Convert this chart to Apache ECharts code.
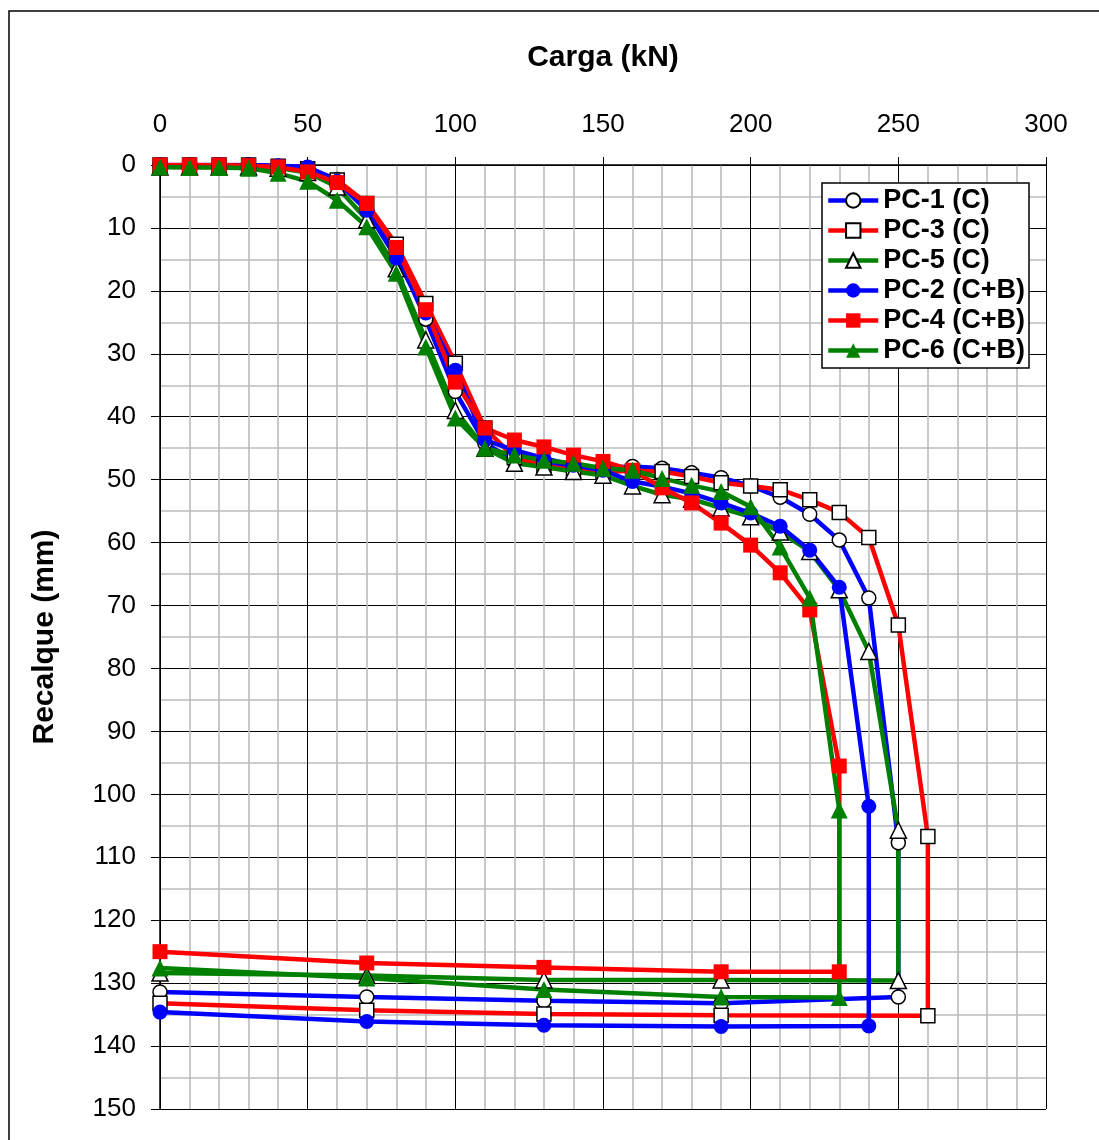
<!DOCTYPE html>
<html>
<head>
<meta charset="utf-8">
<script src="https://cdn.jsdelivr.net/npm/echarts@6/dist/echarts.min.js"></script>
<style>
html,body{margin:0;padding:0;background:#fff;}
#chart{width:1099px;height:1140px;}
</style>
</head>
<body>
<div id="chart"></div>
<script>
// ---- Data (Carga kN vs Recalque mm) ----
var xTicks = [0, 50, 100, 150, 200, 250, 300];
var yTicks = [0, 10, 20, 30, 40, 50, 60, 70, 80, 90, 100, 110, 120, 130, 140, 150];

var pc1Load = [0,10,20,30,40,50,60,70,80,90,100,110,120,130,140,150,160,170,180,190,200,210,220,230,240,250,250,190,130,70,0];
var pc1Set  = [0,0,0,0,0.2,0.4,2.3,7.2,14.0,24.5,36.0,44.2,47.0,47.5,47.9,48.1,47.9,48.2,48.9,49.7,51.0,52.8,55.5,59.6,68.8,107.7,132.2,133.2,132.8,132.2,131.4];

var pc3Load = [0,10,20,30,40,50,60,70,80,90,100,110,120,130,140,150,160,170,180,190,200,210,220,230,240,250,260,260,190,130,70,0];
var pc3Set  = [0,0,0,0,0.2,0.6,2.4,6.1,12.6,22.0,31.5,41.8,46.5,47.8,48.5,48.8,48.6,48.7,49.5,50.5,51.0,51.6,53.2,55.2,59.2,73.1,106.7,135.2,135.1,134.9,134.3,133.2];

var pc5Load = [0,10,20,30,40,50,60,70,80,90,100,110,120,130,140,150,160,170,180,190,200,210,220,230,240,250,250,190,130,70,0];
var pc5Set  = [0.3,0.3,0.3,0.3,0.5,1.2,3.5,8.7,16.5,27.8,39.0,45.0,47.4,48.0,48.7,49.3,51.0,52.4,53.1,54.5,55.9,58.3,61.4,67.5,77.3,105.7,129.6,129.5,129.5,128.8,128.4];

var pc2Load = [0,10,20,30,40,50,60,70,80,90,100,110,120,130,140,150,160,170,180,190,200,210,220,230,240,240,190,130,70,0];
var pc2Set  = [0,0,0,0,0.1,0.3,2.6,7.2,14.8,23.5,32.6,43.7,45.3,46.6,47.7,48.5,50.3,51.1,52.2,53.7,55.3,57.4,61.2,67.1,101.9,136.8,136.9,136.7,136.1,134.6];

var pc4Load = [0,10,20,30,40,50,60,70,80,90,100,110,120,130,140,150,160,170,180,190,200,210,220,230,230,190,130,70,0];
var pc4Set  = [0,0,0,0.1,0.3,1.1,2.8,6.1,13.1,23.0,34.5,41.8,43.7,44.8,46.1,47.1,48.5,51.3,53.7,56.9,60.4,64.8,70.7,95.5,128.2,128.2,127.5,126.8,125.0];

var pc6Load = [0,10,20,30,40,50,60,70,80,90,100,110,120,130,140,150,160,170,180,190,200,210,220,230,230,190,130,70,0];
var pc6Set  = [0.3,0.4,0.4,0.5,1.3,2.6,5.6,9.8,17.2,28.9,40.2,45.0,46.1,46.9,47.4,48.2,48.5,49.8,50.9,51.9,54.3,60.7,68.8,102.5,132.3,132.2,131.0,129.2,127.6];

function pairs(xs, ys){ return xs.map(function(x,i){ return [x, ys[i]]; }); }

var FONT = '"Liberation Sans", Arial, sans-serif';
var BLUE = '#0000FF', RED = '#FF0000', GREEN = '#008000';

function mk(name, xs, ys, color, symbol, size, hollow){
  return {
    name: name,
    type: 'line',
    data: pairs(xs, ys),
    symbol: symbol,
    symbolSize: size,
    showAllSymbol: true,
    lineStyle: { color: color, width: 4.5 },
    itemStyle: hollow ? { color: '#ffffff', borderColor: '#000000', borderWidth: 1.5 }
                      : { color: color, borderWidth: 0 },
    emphasis: { disabled: true },
    z: 3
  };
}

var chart = echarts.init(document.getElementById('chart'), null, {renderer: 'canvas'});
chart.setOption({
  animation: false,
  backgroundColor: '#ffffff',
  textStyle: { fontFamily: FONT },
  grid: { left: 160, right: 53, top: 165, bottom: 31, containLabel: false },
  graphic: [{
    type: 'rect',
    shape: { x: 9, y: 11, width: 1200, height: 1200 },
    style: { fill: 'none', stroke: '#000', lineWidth: 1.5 },
    silent: true, z: -1
  }],
  legend: {
    orient: 'vertical',
    left: 822, top: 183,
    padding: [4, 4, 4, 4],
    itemGap: 3,
    itemWidth: 50,
    itemHeight: 18,
    backgroundColor: '#ffffff',
    borderColor: '#000000',
    borderWidth: 1.5,
    lineStyle: { width: 4.5 },
    textStyle: { fontFamily: FONT, fontSize: 27, fontWeight: 'bold', color: '#000', lineHeight: 26 },
    data: ['PC-1 (C)', 'PC-3 (C)', 'PC-5 (C)', 'PC-2 (C+B)', 'PC-4 (C+B)', 'PC-6 (C+B)']
  },
  xAxis: {
    type: 'value', position: 'top',
    min: xTicks[0], max: xTicks[xTicks.length-1], interval: 50,
    name: 'Carga (kN)', nameLocation: 'middle', nameGap: 92,
    nameTextStyle: { fontFamily: FONT, fontSize: 30, fontWeight: 'bold', color: '#000' },
    axisLine: { show: true, lineStyle: { color: '#000', width: 1.5 } },
    axisTick: { show: true, inside: false, length: 8, lineStyle: { color: '#000', width: 1 } },
    axisLabel: { fontFamily: FONT, fontSize: 26, color: '#000', margin: 27 },
    splitLine: { show: true, lineStyle: { color: '#000', width: 1 } },
    minorTick: { show: false, splitNumber: 5 },
    minorSplitLine: { show: true, lineStyle: { color: '#bcbcbc', width: 1.6 } }
  },
  yAxis: {
    type: 'value', inverse: true,
    min: yTicks[0], max: yTicks[yTicks.length-1], interval: 10,
    name: 'Recalque (mm)', nameLocation: 'middle', nameGap: 100,
    nameTextStyle: { fontFamily: FONT, fontSize: 30, fontWeight: 'bold', color: '#000' },
    axisLine: { show: true, lineStyle: { color: '#000', width: 1.5 } },
    axisTick: { show: true, inside: false, length: 9, lineStyle: { color: '#000', width: 1 } },
    axisLabel: { fontFamily: FONT, fontSize: 26, color: '#000', margin: 24 },
    splitLine: { show: true, lineStyle: { color: '#000', width: 1 } },
    minorTick: { show: false, splitNumber: 2 },
    minorSplitLine: { show: true, lineStyle: { color: '#bcbcbc', width: 1.6 } }
  },
  series: [
    mk('PC-1 (C)', pc1Load, pc1Set, BLUE, 'circle', 14, true),
    mk('PC-3 (C)', pc3Load, pc3Set, RED, 'rect', 14, true),
    mk('PC-5 (C)', pc5Load, pc5Set, GREEN, 'triangle', 16, true),
    mk('PC-2 (C+B)', pc2Load, pc2Set, BLUE, 'circle', 15, false),
    mk('PC-4 (C+B)', pc4Load, pc4Set, RED, 'rect', 15, false),
    mk('PC-6 (C+B)', pc6Load, pc6Set, GREEN, 'triangle', 17, false)
  ]
});
</script>
</body>
</html>
